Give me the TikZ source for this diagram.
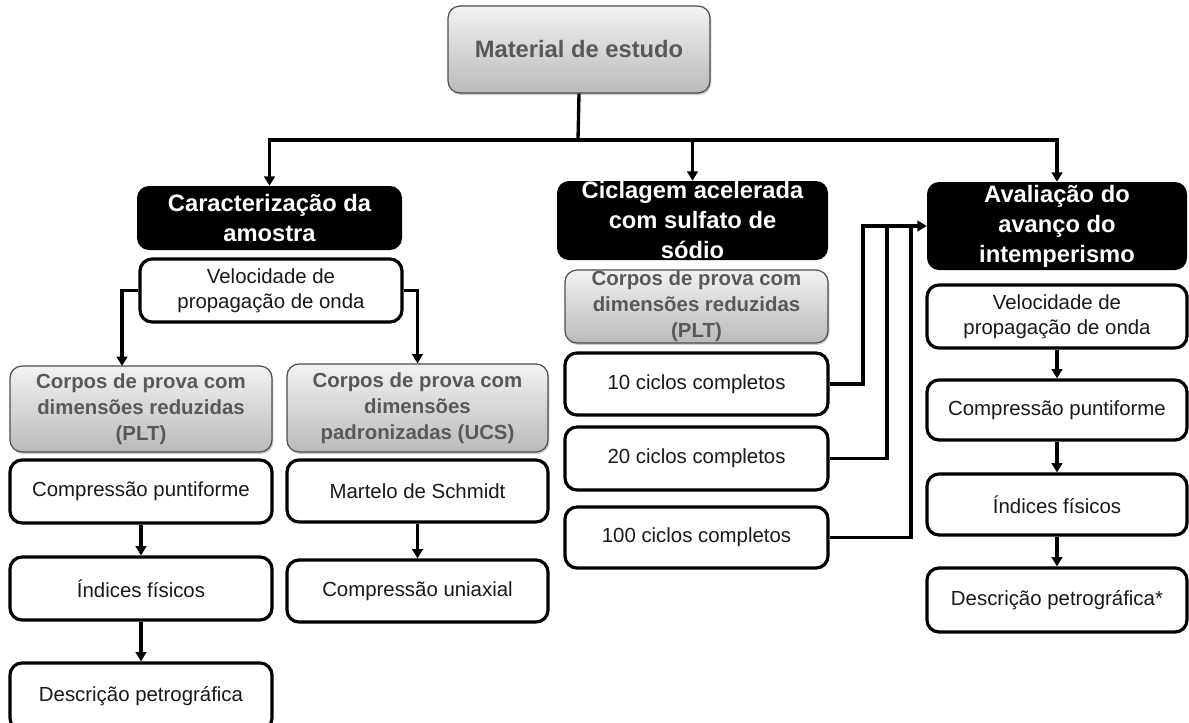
\documentclass[tikz,border=0pt]{standalone}
\usepackage{fontspec}
\setmainfont{Liberation Sans}
\usetikzlibrary{arrows.meta,shadows}
\newcommand\bx[7]{\node[#1, minimum width={(#5-#3)*0.75pt}, minimum height={(#6-#4)*0.75pt}] (#2) at ({(#3+#5)/2},{(#4+#6)/2}) {#7};}
\begin{document}
\begin{tikzpicture}[x=0.75pt,y=-0.75pt,
 base/.style={rounded corners=9pt, inner sep=0pt, align=center},
 graybox/.style={base, draw=black!70, line width=0.9pt, top color=black!5, bottom color=black!27, text=black!65, font=\bfseries\fontsize{15.3}{19.5}\selectfont, drop shadow={opacity=0.4, shadow xshift=1pt, shadow yshift=-1.5pt}},
 topbox/.style={graybox, font=\bfseries\fontsize{17.8}{22}\selectfont},
 blackbox/.style={base, fill=black, text=white, font=\bfseries\fontsize{17.8}{22.5}\selectfont},
 whitebox/.style={base, draw=black, line width=2.4pt, fill=white, text=black!90, font=\fontsize{15.3}{18.5}\selectfont},
 conn/.style={line width=2.5pt},
 arr/.style={conn, -{Triangle[width=8pt,length=7pt]}}
]
\useasboundingbox (0,0) rectangle (1189,722);

\bx{topbox}{M}{448}{6}{710}{93}{Material de estudo}
\bx{blackbox}{C1}{137}{186}{402}{250}{Caracterização da\\amostra}
\bx{whitebox}{V1}{140}{259}{402}{322}{Velocidade de\\propagação de onda}
\bx{graybox}{P1}{10}{366}{272}{452}{Corpos de prova com\\dimensões reduzidas\\(PLT)}
\bx{graybox}{U}{287}{364}{548}{452}{Corpos de prova com\\dimensões\\padronizadas (UCS)}
\bx{whitebox}{CP1}{10}{460}{272}{523}{Compressão puntiforme}
\bx{whitebox}{IF1}{10}{557}{272}{620}{Índices físicos}
\bx{whitebox}{DP1}{10}{663}{272}{730}{Descrição petrográfica}
\bx{whitebox}{MS}{287}{460}{548}{522}{Martelo de Schmidt}
\bx{whitebox}{CU}{287}{560}{548}{622}{Compressão uniaxial}

\bx{blackbox}{C2}{557}{181}{828}{260}{Ciclagem acelerada\\com sulfato de\\sódio}
\bx{graybox}{P2}{565}{270}{828}{343}{Corpos de prova com\\dimensões reduzidas\\(PLT)}
\bx{whitebox}{T10}{565}{353}{828}{415}{10 ciclos completos}
\bx{whitebox}{T20}{565}{427}{828}{490}{20 ciclos completos}
\bx{whitebox}{T100}{565}{507}{828}{568}{100 ciclos completos}

\bx{blackbox}{A}{927}{182}{1187}{270}{Avaliação do\\avanço do\\intemperismo}
\bx{whitebox}{V3}{927}{285}{1187}{348}{Velocidade de\\propagação de onda}
\bx{whitebox}{CP3}{927}{380}{1187}{440}{Compressão puntiforme}
\bx{whitebox}{IF3}{927}{474}{1187}{535}{Índices físicos}
\bx{whitebox}{DP3}{927}{568}{1187}{632}{Descrição petrográfica*}

% top bus
\coordinate (bus) at (578,140);
\draw[conn] (M.south) -- (bus);
\draw[arr] (bus) -| (C1.north);
\draw[arr] (bus) -| (C2.north);
\draw[arr] (bus) -| (A.north);

% left column
\coordinate (p1in) at (122,366);
\draw[arr] (V1.west) -| (p1in);
\draw[arr] (V1.east) -| (U.north);
\draw[arr] (CP1) -- (IF1);
\draw[arr] (IF1) -- (DP1);
\draw[arr] (MS) -- (CU);

% middle column to right
\coordinate (k10) at (863,226);
\coordinate (k20) at (887,226);
\coordinate (k100) at (911,226);
\draw[conn] (T20.east) -| (k20);
\draw[conn] (T100.east) -| (k100);
\draw[arr] (T10.east) -| (k10) -- (A.west);

% right column
\draw[arr] (V3) -- (CP3);
\draw[arr] (CP3) -- (IF3);
\draw[arr] (IF3) -- (DP3);
\end{tikzpicture}
\end{document}
